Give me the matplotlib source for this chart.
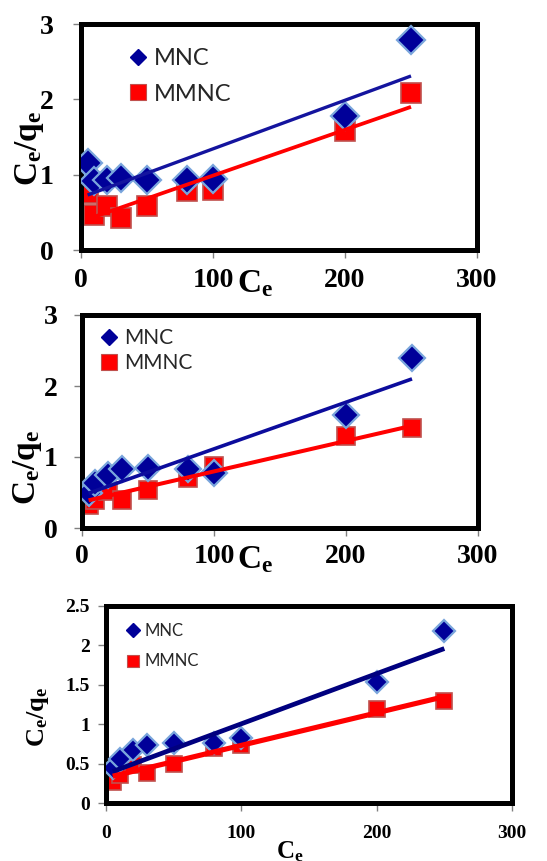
import matplotlib
matplotlib.use("Agg")
import matplotlib.pyplot as plt
from matplotlib.lines import Line2D

# ---------------- data ----------------
Ce = [5, 10, 20, 30, 50, 80, 100, 200, 250]

mnc1 = [1.15, 0.92, 0.93, 0.95, 0.93, 0.93, 0.94, 1.78, 2.79]
mmnc1 = [0.76, 0.47, 0.58, 0.42, 0.58, 0.78, 0.80, 1.58, 2.08]
trend_x = [5, 250]
mnc1_fit = [0.73, 2.31]
mmnc1_fit = [0.41, 1.90]

mnc2 = [0.49, 0.63, 0.75, 0.83, 0.85, 0.83, 0.78, 1.59, 2.39]
mmnc2 = [0.33, 0.40, 0.52, 0.39, 0.53, 0.71, 0.87, 1.30, 1.41]
mnc2_fit = [0.49, 2.10]
mmnc2_fit = [0.39, 1.44]

mnc3 = [0.45, 0.56, 0.67, 0.73, 0.76, 0.76, 0.83, 1.53, 2.18]
mmnc3 = [0.27, 0.36, 0.48, 0.38, 0.50, 0.70, 0.73, 1.19, 1.30]
mnc3_fit = [0.40, 1.96]
mmnc3_fit = [0.34, 1.35]

xticks = [0, 100, 200, 300]
yticks12 = [0, 1, 2, 3]
yticks3 = [0, 0.5, 1, 1.5, 2, 2.5]
yticklabels3 = ["0", "0.5", "1", "1.5", "2", "2.5"]
series_labels = ["MNC", "MMNC"]

# ---------------- style ----------------
plt.rcParams["mathtext.fontset"] = "custom"
plt.rcParams["mathtext.rm"] = "Liberation Serif:bold"
plt.rcParams["mathtext.bf"] = "Liberation Serif:bold"
plt.rcParams["mathtext.it"] = "Liberation Serif:bold"

W, H = 547, 861
fig = plt.figure(figsize=(W / 100, H / 100), dpi=100)

BLUE_FACE = "#000099"
BLUE_EDGE = "#7aa6dc"
RED_FACE = "#ff0000"
RED_EDGE = "#c0504d"
RED_LINE = "#ff0000"


def px_axes(l, t, r, b):
    return fig.add_axes([l / W, 1 - b / H, (r - l) / W, (b - t) / H])


def fig_px(x, y):
    return x / W, 1 - y / H


def panel(box, mnc, mmnc, mfit, rfit, yticks, ylim, ytl, tick_fs, ytick_pad,
          xtick_pad, dms, sms, lw, blue_line, ylab_xy, ylab_fs, xlab_xy,
          xlab_fs, xlab_ha, leg_anchor, leg_fs, leg_spacing, leg_family,
          leg_dms, leg_sms):
    ax = px_axes(*box)
    ax.plot(Ce, mnc, linestyle="none", marker="D", ms=dms, mfc=BLUE_FACE,
            mec=BLUE_EDGE, mew=1.6, zorder=3)
    ax.plot(Ce, mmnc, linestyle="none", marker="s", ms=sms, mfc=RED_FACE,
            mec=RED_EDGE, mew=1.2, zorder=2)
    ax.plot(trend_x, mfit, color=blue_line, lw=lw, zorder=4,
            solid_capstyle="butt")
    ax.plot(trend_x, rfit, color=RED_LINE, lw=lw + 0.3, zorder=4,
            solid_capstyle="butt")
    ax.set_xlim(0, 300)
    ax.set_ylim(*ylim)
    ax.set_xticks(xticks)
    ax.set_yticks(yticks)
    if ytl is not None:
        ax.set_yticklabels(ytl)
    for s in ax.spines.values():
        s.set_linewidth(3.6)
        s.set_color("black")
    ax.tick_params(axis="both", direction="out", length=5.5, width=1,
                   color="#808080", labelsize=tick_fs)
    ax.tick_params(axis="y", pad=ytick_pad)
    ax.tick_params(axis="x", pad=xtick_pad)
    for lab in ax.get_xticklabels() + ax.get_yticklabels():
        lab.set_fontfamily("Liberation Serif")
        lab.set_fontweight("bold")
    fig.text(*fig_px(*ylab_xy), r"$\mathbf{C_e/q_e}$", rotation=90,
             ha="center", va="center", fontsize=ylab_fs)
    fig.text(*fig_px(*xlab_xy), r"$\mathbf{C_e}$", ha=xlab_ha,
             va="baseline", fontsize=xlab_fs)
    h1 = Line2D([], [], linestyle="none", marker="D", ms=leg_dms,
                mfc=BLUE_FACE, mec=BLUE_FACE)
    h2 = Line2D([], [], linestyle="none", marker="s", ms=leg_sms,
                mfc=RED_FACE, mec=RED_EDGE, mew=0.8)
    leg = ax.legend([h1, h2], series_labels, loc="upper left",
                    bbox_to_anchor=fig_px(*leg_anchor),
                    bbox_transform=fig.transFigure, frameon=False,
                    handlelength=0.9, handletextpad=0.25,
                    labelspacing=leg_spacing, borderpad=0, borderaxespad=0,
                    prop={"family": leg_family, "size": leg_fs})
    for t in leg.get_texts():
        t.set_color("#262626")
    return ax


panel((81, 24, 477, 250), mnc1, mmnc1, mnc1_fit, mmnc1_fit, yticks12, (0, 3),
      None, 20, 14, 7.5, 14, 14, 2.4, "#14149e", (30, 148), 24, (237, 292),
      24, "left", (127, 48), 17, 0.62, ["Lato"], 8.5, 11.5)

panel((82, 315, 478, 528), mnc2, mmnc2, mnc2_fit, mmnc2_fit, yticks12, (0, 3),
      None, 20, 12, 6, 13, 13, 2.6, "#0c0c9c", (28, 467), 24, (237, 568),
      24, "left", (100, 328), 15, 0.26, ["Lato"], 8, 11)

panel((106, 606, 512, 803), mnc3, mmnc3, mnc3_fit, mmnc3_fit, yticks3,
      (0, 2.5), yticklabels3, 14, 6, 10, 11, 12, 3.4, "#00007f", (38, 717), 19,
      (290, 858), 18, "center", (125.5, 623), 12,
      0.86, ["Liberation Sans Narrow", "Lato"], 7, 8.5)

fig.savefig("out.png", dpi=100)
